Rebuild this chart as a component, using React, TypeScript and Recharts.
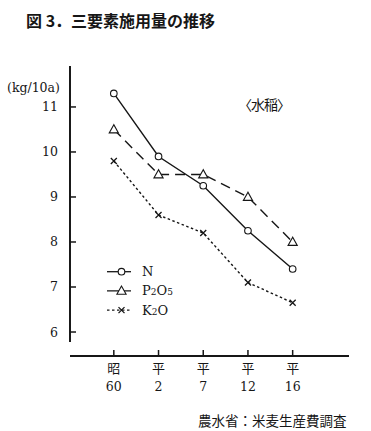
import React from "react"
import { LineChart, Line, XAxis, YAxis, Legend, ReferenceArea } from "recharts"

const eraLabels = ["昭", "平", "平", "平", "平"]
const yearLabels = ["60", "2", "7", "12", "16"]
const nValues = [11.3, 9.9, 9.25, 8.25, 7.4]
const p2o5Values = [10.5, 9.5, 9.5, 9.0, 8.0]
const k2oValues = [9.8, 8.6, 8.2, 7.1, 6.65]
const yTicks = [6, 7, 8, 9, 10, 11]

const INK = "#161616"
const SERIF = "'DejaVu Serif', 'Noto Sans CJK JP', serif"
const CJK = "'Noto Sans CJK JP', sans-serif"

const X_DOMAIN: [number, number] = [-0.98, 5.26]
const Y_DOMAIN: [number, number] = [5.467, 11.91]
// y axis line stops short of the x axis
const Y_AXIS_BOTTOM = 5.78
const AXIS_HALF = 0.022

const data = yearLabels.map((_, i) => ({
  x: i,
  N: nValues[i],
  P2O5: p2o5Values[i],
  K2O: k2oValues[i],
}))

const circleDot = (p: any) => (
  <circle key={p.index} cx={p.cx} cy={p.cy} r={3.3} fill="#fff" stroke={INK} strokeWidth={1.1} />
)
const triangleDot = (p: any) => (
  <polygon
    key={p.index}
    points={`${p.cx},${p.cy - 4.8} ${p.cx - 4.6},${p.cy + 3.4} ${p.cx + 4.6},${p.cy + 3.4}`}
    fill="#fff"
    stroke={INK}
    strokeWidth={1.1}
  />
)
const crossDot = (p: any) => (
  <path
    key={p.index}
    d={`M${p.cx - 3},${p.cy - 3}L${p.cx + 3},${p.cy + 3}M${p.cx + 3},${p.cy - 3}L${p.cx - 3},${p.cy + 3}`}
    stroke={INK}
    strokeWidth={1.3}
  />
)

const series = [
  { key: "N", dash: undefined, legendDash: undefined, dot: circleDot, label: [["N", false]] },
  { key: "P2O5", dash: "10 6", legendDash: "12 4 8", dot: triangleDot, label: [["P", false], ["2", true], ["O", false], ["5", true]] },
  { key: "K2O", dash: "2.5 2.5", legendDash: "2.5 2.5", dot: crossDot, label: [["K", false], ["2", true], ["O", false]] },
]

function YTick({ x, y, payload }: any) {
  return (
    <g>
      <line x1={x} x2={x + 6} y1={y} y2={y} stroke={INK} strokeWidth={1.5} />
      <text x={x - 12} y={y + 4.5} textAnchor="end" fontFamily={SERIF} fontSize={12.5} fill={INK}>
        {payload.value}
      </text>
    </g>
  )
}

function XTick({ x, y, payload }: any) {
  const i = payload.value
  return (
    <g>
      <line x1={x} x2={x} y1={y} y2={y - 6} stroke={INK} strokeWidth={1.5} />
      <text x={x} y={y + 17} textAnchor="middle" fontFamily={SERIF} fontSize={13} fill={INK}>
        {eraLabels[i]}
      </text>
      <text x={x} y={y + 35} textAnchor="middle" fontFamily={SERIF} fontSize={12.5} fill={INK}>
        {yearLabels[i]}
      </text>
    </g>
  )
}

function LegendBox() {
  return (
    <svg width={90} height={60}>
      {series.map((s, i) => {
        const y = 9.7 + i * 19.2
        return (
          <g key={s.key}>
            <line x1={2} x2={26} y1={y} y2={y} stroke={INK} strokeWidth={1.3} strokeDasharray={s.legendDash} />
            {s.dot({ cx: 16.5, cy: y, index: i })}
            <text x={37} y={y + 4.5} fontFamily={SERIF} fontSize={13} fill={INK}>
              {s.label.map(([t, sub], j) => (
                <tspan key={j} fontSize={sub ? 9 : 13}>
                  {t as string}
                </tspan>
              ))}
            </text>
          </g>
        )
      })}
    </svg>
  )
}

export default function App() {
  return (
    <div style={{ position: "absolute", left: 0, top: 0, width: 371, height: 431, background: "#fff" }}>
      <div style={{ position: "absolute", left: 26, top: 8, fontFamily: CJK, fontWeight: 700, fontSize: 16, color: INK, whiteSpace: "nowrap" }}>
        図 3．三要素施用量の推移
      </div>
      <LineChart width={371} height={431} data={data} margin={{ top: 66, right: 22, bottom: 0, left: 0 }}>
        <XAxis
          dataKey="x"
          type="number"
          domain={X_DOMAIN}
          ticks={[0, 1, 2, 3, 4]}
          height={75}
          tickSize={0}
          tickMargin={0}
          tickLine={false}
          axisLine={{ stroke: INK, strokeWidth: 2 }}
          tick={<XTick />}
          allowDataOverflow
        />
        <YAxis
          type="number"
          domain={Y_DOMAIN}
          ticks={yTicks}
          width={70}
          tickSize={0}
          tickMargin={0}
          tickLine={false}
          axisLine={false}
          tick={<YTick />}
          allowDataOverflow
        />
        <ReferenceArea
          x1={X_DOMAIN[0] - AXIS_HALF}
          x2={X_DOMAIN[0] + AXIS_HALF}
          y1={Y_AXIS_BOTTOM}
          y2={Y_DOMAIN[1]}
          fill={INK}
          fillOpacity={1}
          stroke="none"
          ifOverflow="visible"
        />
        {series.map((s) => (
          <Line
            key={s.key}
            dataKey={s.key}
            type="linear"
            stroke={INK}
            strokeWidth={1.4}
            strokeDasharray={s.dash}
            dot={s.dot}
            activeDot={false}
            isAnimationActive={false}
          />
        ))}
        <Legend
          layout="horizontal"
          verticalAlign="middle"
          align="center"
          content={() => <LegendBox />}
          wrapperStyle={{ position: "absolute", left: 105, top: 262, width: 90, height: 60 }}
        />
      </LineChart>
      <div style={{ position: "absolute", left: 7, top: 80, fontFamily: SERIF, fontSize: 12.5, color: INK }}>(kg/10a)</div>
      <div style={{ position: "absolute", left: 238, top: 94, fontFamily: CJK, fontSize: 14, color: INK, letterSpacing: -1 }}>〈水稲〉</div>
      <div style={{ position: "absolute", left: 198, top: 410, fontFamily: CJK, fontSize: 13.5, color: INK, whiteSpace: "nowrap" }}>
        農水省：米麦生産費調査
      </div>
    </div>
  )
}
